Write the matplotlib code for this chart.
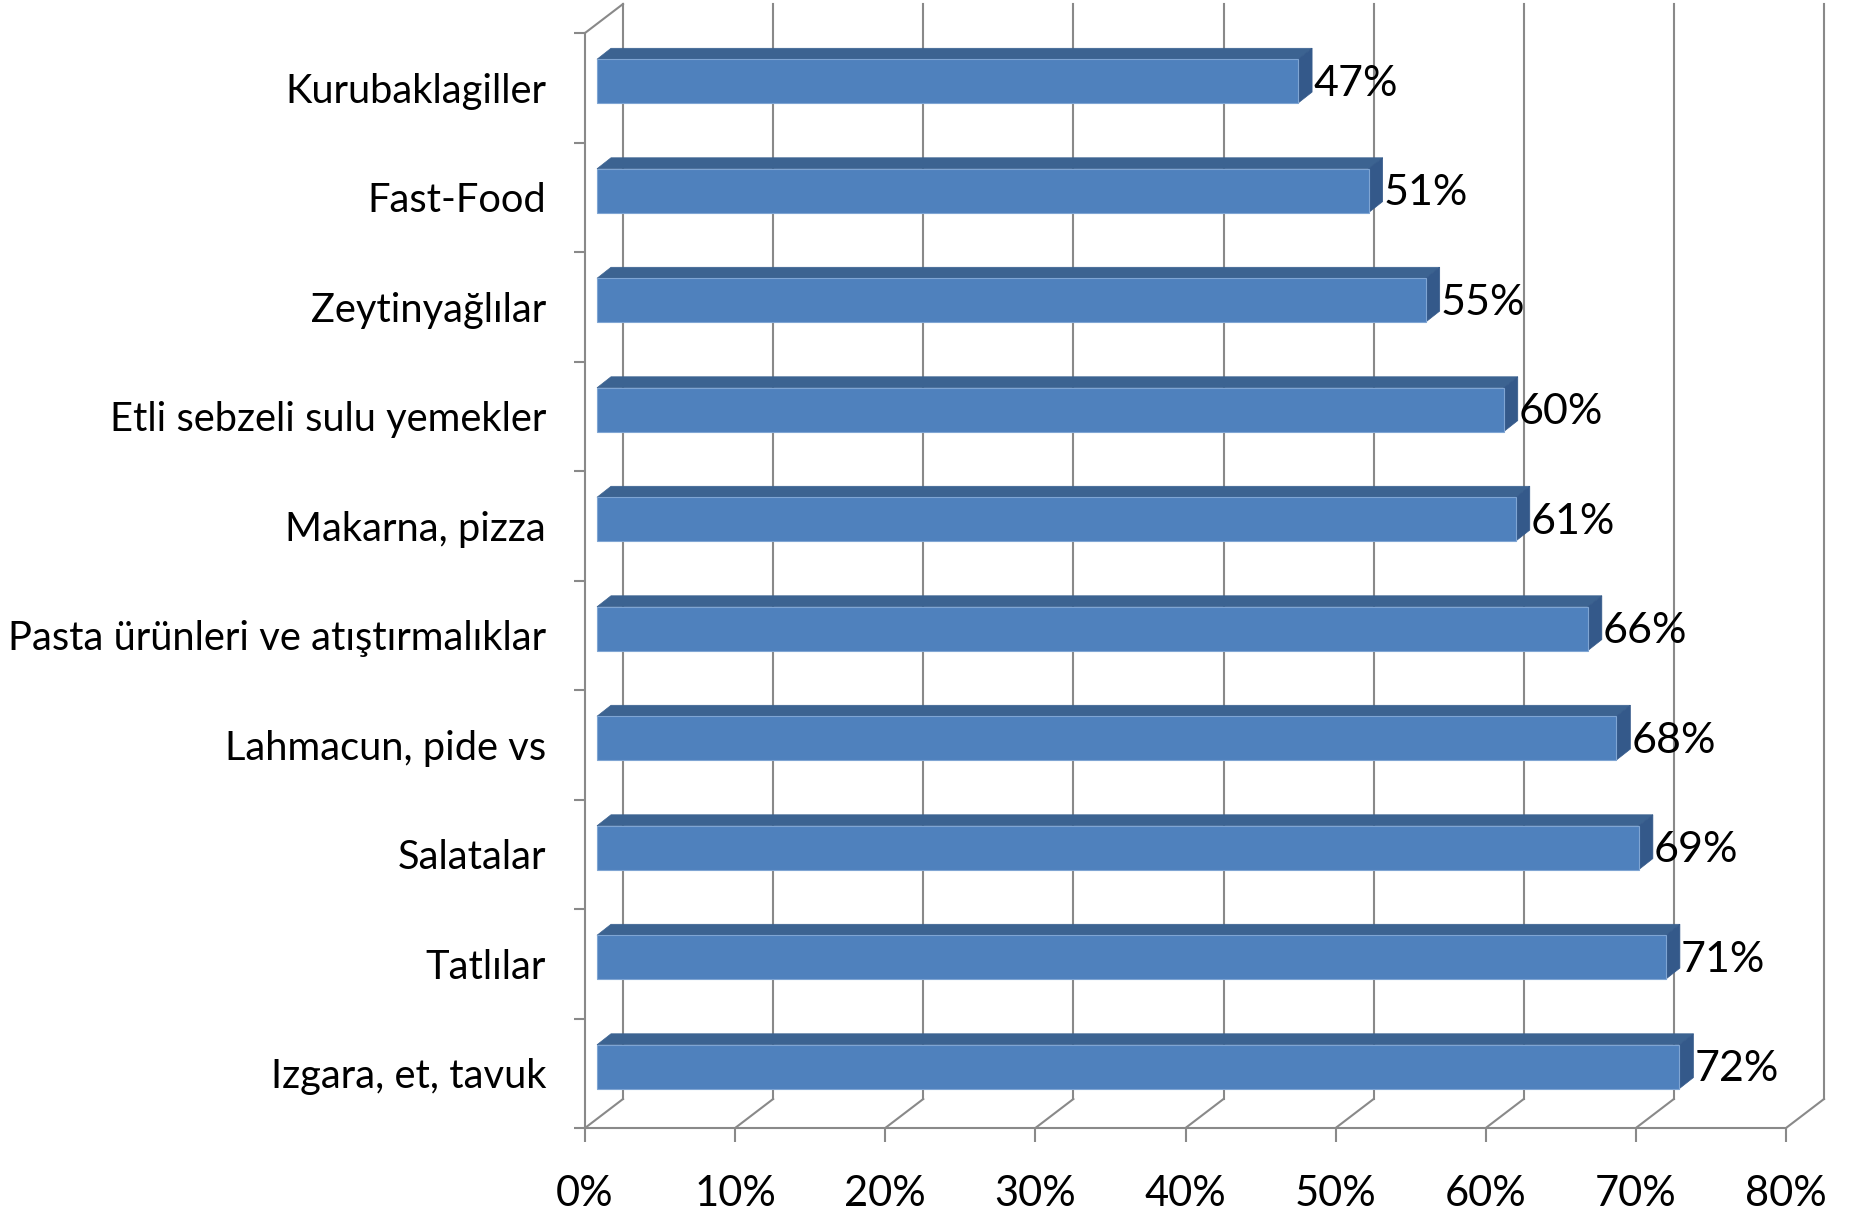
import matplotlib
matplotlib.use("Agg")
import matplotlib.pyplot as plt
from matplotlib.patches import Polygon, Rectangle
from matplotlib.ticker import FixedLocator

plt.rcParams['font.family'] = ['Lato', 'DejaVu Sans']

categories = ["Izgara, et, tavuk", "Tatlılar", "Salatalar", "Lahmacun, pide vs",
              "Pasta ürünleri ve atıştırmalıklar", "Makarna, pizza",
              "Etli sebzeli sulu yemekler", "Zeytinyağlılar", "Fast-Food", "Kurubaklagiller"]
values = [0.721, 0.712, 0.694, 0.679, 0.660, 0.612, 0.604, 0.552, 0.514, 0.467]
value_labels = ["72%", "71%", "69%", "68%", "66%", "61%", "60%", "55%", "51%", "47%"]
xticks = [0.0, 0.1, 0.2, 0.3, 0.4, 0.5, 0.6, 0.7, 0.8]
xtick_labels = ["0%", "10%", "20%", "30%", "40%", "50%", "60%", "70%", "80%"]

W, H = 1860, 1212
fig = plt.figure(figsize=(W / 100, H / 100), dpi=100)
x0p, x1p, y0p, y1p = 585, 1786, 1128, 33
ax = fig.add_axes([x0p / W, (H - y0p) / H, (x1p - x0p) / W, (y0p - y1p) / H])
XMAX, NCAT = 0.8, len(categories)
ax.set_xlim(0, XMAX)
ax.set_ylim(0, NCAT)
for s in ax.spines.values():
    s.set_visible(False)

px_x = XMAX / (x1p - x0p)   # data units per pixel in x
px_y = NCAT / (y0p - y1p)   # data units per pixel in y
DX, DY = 38 * px_x, 29 * px_y   # depth of the wall
grey = '#898989'
lw = 1.5

# back wall gridlines and floor diagonals
for v in xticks:
    ax.plot([v + DX, v + DX], [DY, NCAT + DY], color=grey, lw=lw, clip_on=False, zorder=1)
    ax.plot([v, v + DX], [0, DY], color=grey, lw=lw, clip_on=False, zorder=1)
# front floor edge
ax.plot([0, XMAX], [0, 0], color=grey, lw=lw, clip_on=False, zorder=1)
# left wall front edge and top
ax.plot([0, 0], [0, NCAT], color=grey, lw=lw, clip_on=False, zorder=1)
ax.plot([0, DX], [NCAT, NCAT + DY], color=grey, lw=lw, clip_on=False, zorder=1)

# bars
off = 12 * px_x
bdx, bdy = 14 * px_x, 11 * px_y
h = 0.40
front_c, top_c, side_c = '#4F81BD', '#3C6391', '#34598A'
for i, (v, lab) in enumerate(zip(values, value_labels)):
    c = i + 0.56
    yb, yt = c - h / 2, c + h / 2
    xl, xr = off, v + off
    ax.add_patch(Polygon([(xl, yt), (xr, yt), (xr + bdx, yt + bdy), (xl + bdx, yt + bdy)],
                         closed=True, facecolor=top_c, edgecolor=top_c, lw=0.5, zorder=3, clip_on=False))
    ax.add_patch(Polygon([(xr, yb), (xr + bdx, yb + bdy), (xr + bdx, yt + bdy), (xr, yt)],
                         closed=True, facecolor=side_c, edgecolor=side_c, lw=0.5, zorder=3, clip_on=False))
    ax.add_patch(Rectangle((xl, yb), xr - xl, yt - yb, facecolor=front_c,
                           edgecolor='#7FA5D3', lw=0.8, zorder=4, clip_on=False))
    ax.text(xr + bdx + 1 * px_x, c - 0.025, lab, ha='left', va='center',
            fontsize=31, color='black', zorder=5, clip_on=False)

# x axis ticks / labels
ax.xaxis.set_major_locator(FixedLocator(xticks))
ax.set_xticklabels(xtick_labels)
ax.tick_params(axis='x', which='major', direction='out', length=10, width=lw,
               color=grey, labelsize=30, pad=24)
# y axis: tick marks at integers, labels at slot centres
ax.yaxis.set_major_locator(FixedLocator([i + 0.5 for i in range(NCAT)]))
ax.set_yticklabels(categories)
ax.yaxis.set_minor_locator(FixedLocator(list(range(NCAT + 1))))
ax.tick_params(axis='y', which='major', length=0, labelsize=28.7, pad=28)
ax.tick_params(axis='y', which='minor', direction='out', length=8, width=lw, color=grey)

fig.savefig('out.png', dpi=100)
